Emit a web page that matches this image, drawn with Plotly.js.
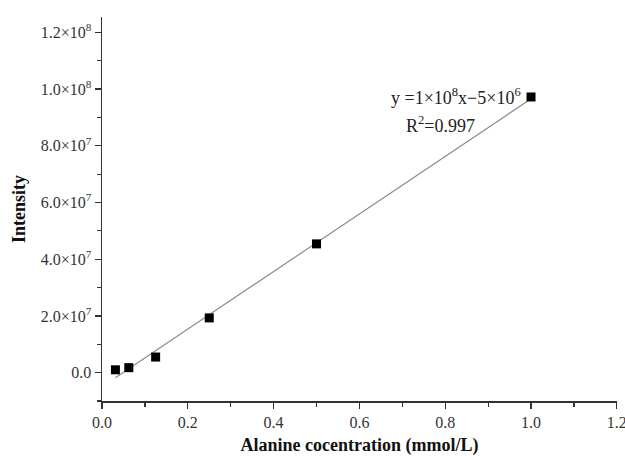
<!DOCTYPE html>
<html><head><meta charset="utf-8">
<script src="https://cdn.plot.ly/plotly-3.0.1.min.js"></script>
<style>html,body{margin:0;padding:0;background:#fff}#chart{width:625px;height:460px}</style>
</head><body><div id="chart"></div>
<script>
const concentration = [0.03125, 0.0625, 0.125, 0.25, 0.5, 1.0];
const intensity = [1.0e6, 1.76e6, 5.5e6, 1.93e7, 4.54e7, 9.72e7];
const xTickVals = [0, 0.2, 0.4, 0.6, 0.8, 1.0, 1.2];
const xTickText = ['0.0','0.2','0.4','0.6','0.8','1.0','1.2'];
const yTickVals = [0, 2e7, 4e7, 6e7, 8e7, 1e8, 1.2e8];
const yTickText = ['0.0','2.0×10<sup>7</sup>','4.0×10<sup>7</sup>','6.0×10<sup>7</sup>','8.0×10<sup>7</sup>','1.0×10<sup>8</sup>','1.2×10<sup>8</sup>'];
const eqText = 'y =1×10<sup>8</sup>x−5×10<sup>6</sup>';
const r2Text = 'R<sup>2</sup>=0.997';

// least-squares fit from the data
const n = concentration.length;
const mx = concentration.reduce((a,b)=>a+b,0)/n;
const my = intensity.reduce((a,b)=>a+b,0)/n;
let sxx=0, sxy=0;
for (let i=0;i<n;i++){ sxx+=(concentration[i]-mx)**2; sxy+=(concentration[i]-mx)*(intensity[i]-my); }
const slope = sxy/sxx, intercept = my - slope*mx;
const fitX = [Math.min(...concentration), Math.max(...concentration)];
const fitY = fitX.map(x=>slope*x+intercept);

const serif = 'Liberation Serif, Times New Roman, serif';
const traces = [
  {x: fitX, y: fitY, mode:'lines', line:{color:'#8c8c8c', width:1.2}, hoverinfo:'skip'},
  {x: concentration, y: intensity, mode:'markers', marker:{symbol:'square', size:9, color:'#000'}}
];
const layout = {
  width:625, height:460, showlegend:false,
  paper_bgcolor:'#fff', plot_bgcolor:'#fff',
  margin:{l:102, r:8, t:17, b:59},
  font:{family:serif, size:15, color:'#222'},
  xaxis:{range:[0,1.2004], tickvals:xTickVals, ticktext:xTickText, ticklabeloverflow:'allow',
    showgrid:false, zeroline:false, showline:true, linecolor:'#333', linewidth:1.5,
    ticks:'outside', ticklen:6, tickwidth:1.3, tickcolor:'#333',
    minor:{dtick:0.1, tick0:0, ticks:'outside', ticklen:4, tickwidth:1.2, tickcolor:'#333'},
    tickfont:{family:serif, size:16, color:'#333'},
    title:{text:'<b>Alanine cocentration (mmol/L)</b>', font:{family:serif, size:18, color:'#111'}, standoff:8}},
  yaxis:{range:[-1e7, 1.254e8], tickvals:yTickVals, ticktext:yTickText,
    showgrid:false, zeroline:false, showline:true, linecolor:'#333', linewidth:1.5,
    ticks:'outside', ticklen:6, tickwidth:1.3, tickcolor:'#333',
    minor:{dtick:1e7, ticks:'outside', ticklen:4, tickwidth:1.2, tickcolor:'#333'},
    tickfont:{family:serif, size:16, color:'#333'},
    title:{text:'<b>Intensity</b>', font:{family:serif, size:18, color:'#111'}, standoff:10}},
  annotations:[
    {x:0.981, y:9.72e7, xref:'x', yref:'y', text:eqText, showarrow:false, xanchor:'right', yanchor:'middle', font:{family:serif, size:18, color:'#222'}},
    {x:0.788, y:8.75e7, xref:'x', yref:'y', text:r2Text, showarrow:false, xanchor:'center', yanchor:'middle', font:{family:serif, size:18, color:'#222'}}
  ]
};
Plotly.newPlot('chart', traces, layout, {displayModeBar:false, staticPlot:true});
</script></body></html>
